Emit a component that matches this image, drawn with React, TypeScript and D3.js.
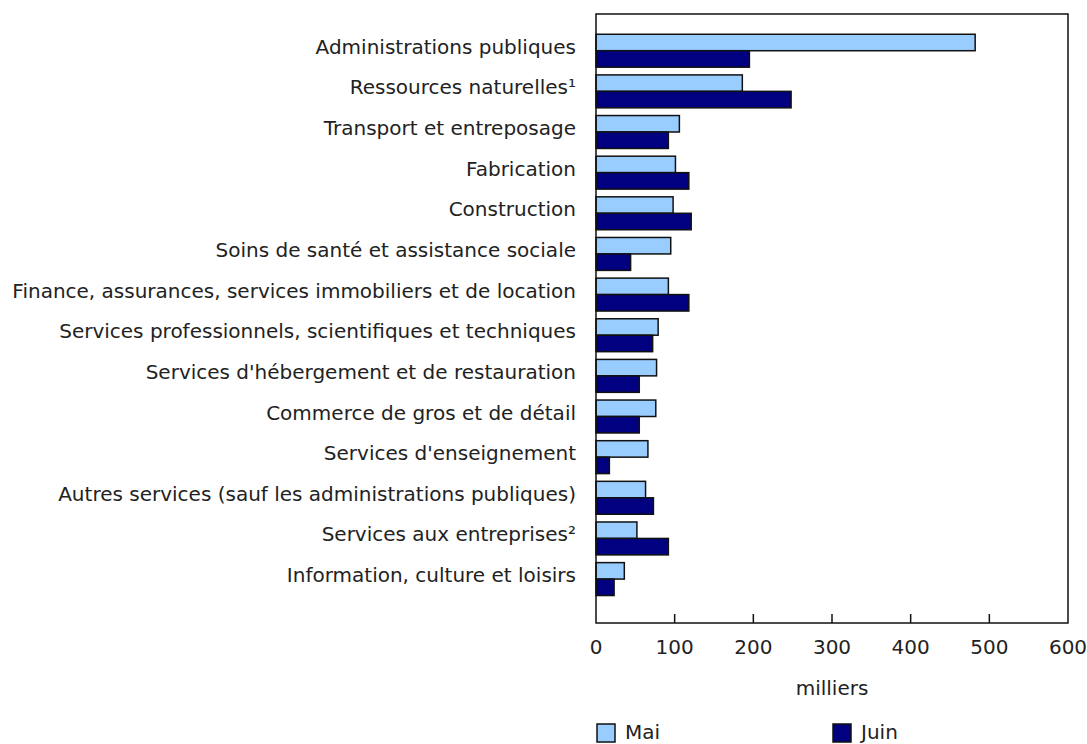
import React, { useEffect, useRef } from "react";
import * as d3 from "d3";

const categories = [
  "Administrations publiques",
  "Ressources naturelles¹",
  "Transport et entreposage",
  "Fabrication",
  "Construction",
  "Soins de santé et assistance sociale",
  "Finance, assurances, services immobiliers et de location",
  "Services professionnels, scientifiques et techniques",
  "Services d'hébergement et de restauration",
  "Commerce de gros et de détail",
  "Services d'enseignement",
  "Autres services (sauf les administrations publiques)",
  "Services aux entreprises²",
  "Information, culture et loisirs",
];

const mai = [482, 186, 106, 101, 98, 95, 92, 79, 77, 76, 66, 63, 52, 36];
const juin = [195, 248, 92, 118, 121, 44, 118, 72, 55, 55, 17, 73, 92, 23];

const seriesNames = ["Mai", "Juin"];
const seriesColors = ["#99ccff", "#000080"];
const xTicks = [0, 100, 200, 300, 400, 500, 600];

const App: React.FC = () => {
  const ref = useRef<SVGSVGElement | null>(null);

  useEffect(() => {
    if (!ref.current) return;
    const svg = d3.select(ref.current);
    svg.selectAll("*").remove();

    const left = 596,
      right = 1068,
      top = 14,
      bottom = 623;
    const font = "DejaVu Sans, Verdana, sans-serif";
    const fontSize = 20;

    const x = d3.scaleLinear().domain([0, 600]).range([left, right]);
    const y = d3
      .scaleBand<string>()
      .domain(categories)
      .range([30.4, 599.4])
      .paddingInner(0.19)
      .paddingOuter(0.095);
    const ySub = d3
      .scaleBand<string>()
      .domain(seriesNames)
      .range([0, y.bandwidth()]);

    const rows = categories.map((c, i) => ({ cat: c, values: [mai[i], juin[i]] }));

    // bars
    const g = svg.append("g");
    rows.forEach((r) => {
      r.values.forEach((v, j) => {
        g.append("rect")
          .attr("x", x(0))
          .attr("y", (y(r.cat) || 0) + (ySub(seriesNames[j]) || 0))
          .attr("width", x(v) - x(0))
          .attr("height", ySub.bandwidth())
          .attr("fill", seriesColors[j])
          .attr("stroke", "#111")
          .attr("stroke-width", 1.5);
      });
    });

    // frame
    svg
      .append("rect")
      .attr("x", left)
      .attr("y", top)
      .attr("width", right - left)
      .attr("height", bottom - top)
      .attr("fill", "none")
      .attr("stroke", "#111")
      .attr("stroke-width", 1.5);

    // category labels
    svg
      .append("g")
      .selectAll("text")
      .data(categories)
      .join("text")
      .attr("x", left - 20)
      .attr("y", (d) => (y(d) || 0) + y.bandwidth() / 2 - 4)
      .attr("text-anchor", "end")
      .attr("dominant-baseline", "central")
      .attr("font-family", font)
      .attr("font-size", fontSize)
      .attr("fill", "#222")
      .text((d) => d);

    // x axis ticks (inward) and labels
    const ax = svg.append("g");
    ax.selectAll("line")
      .data(xTicks.slice(1, -1))
      .join("line")
      .attr("x1", (d) => x(d))
      .attr("x2", (d) => x(d))
      .attr("y1", bottom)
      .attr("y2", bottom - 9)
      .attr("stroke", "#111")
      .attr("stroke-width", 1.5);
    ax.selectAll("text")
      .data(xTicks)
      .join("text")
      .attr("x", (d) => x(d))
      .attr("y", 647)
      .attr("text-anchor", "middle")
      .attr("dominant-baseline", "central")
      .attr("font-family", font)
      .attr("font-size", fontSize)
      .attr("fill", "#222")
      .text((d) => d);

    svg
      .append("text")
      .attr("x", (left + right) / 2)
      .attr("y", 688)
      .attr("text-anchor", "middle")
      .attr("dominant-baseline", "central")
      .attr("font-family", font)
      .attr("font-size", fontSize)
      .attr("fill", "#222")
      .text("milliers");

    // legend
    const legendX = [596, 832];
    seriesNames.forEach((s, i) => {
      svg
        .append("rect")
        .attr("x", legendX[i] + 1)
        .attr("y", 724)
        .attr("width", 18)
        .attr("height", 18)
        .attr("fill", seriesColors[i])
        .attr("stroke", "#111")
        .attr("stroke-width", 1.5);
      svg
        .append("text")
        .attr("x", legendX[i] + 29)
        .attr("y", 732)
        .attr("dominant-baseline", "central")
        .attr("font-family", font)
        .attr("font-size", fontSize)
        .attr("fill", "#222")
        .text(s);
    });
  }, []);

  return (
    <svg
      ref={ref}
      width={1087}
      height={744}
      style={{ position: "absolute", left: 0, top: 0, background: "#fff" }}
    />
  );
};

export default App;
